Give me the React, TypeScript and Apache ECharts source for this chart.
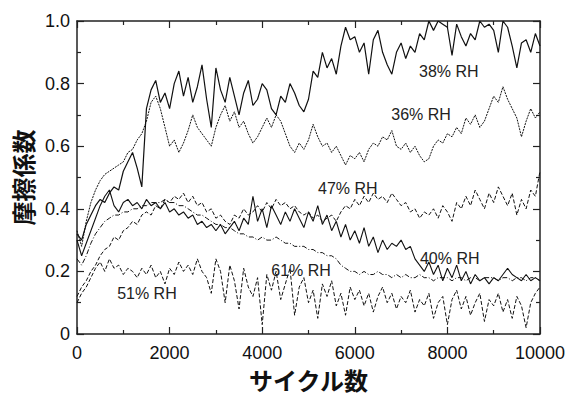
import React, { useEffect, useRef } from 'react';
import * as echarts from 'echarts';

// sampling grid (cycles)
const cycles = [
  0, 100, 200, 300, 400, 500, 600, 700, 800, 900,
  1000, 1100, 1200, 1300, 1400, 1500, 1600, 1700, 1800, 1900,
  2000, 2100, 2200, 2300, 2400, 2500, 2600, 2700, 2800, 2900,
  3000, 3100, 3200, 3300, 3400, 3500, 3600, 3700, 3800, 3900,
  4000, 4100, 4200, 4300, 4400, 4500, 4600, 4700, 4800, 4900,
  5000, 5100, 5200, 5300, 5400, 5500, 5600, 5700, 5800, 5900,
  6000, 6100, 6200, 6300, 6400, 6500, 6600, 6700, 6800, 6900,
  7000, 7100, 7200, 7300, 7400, 7500, 7600, 7700, 7800, 7900,
  8000, 8100, 8200, 8300, 8400, 8500, 8600, 8700, 8800, 8900,
  9000, 9100, 9200, 9300, 9400, 9500, 9600, 9700, 9800, 9900,
  10000,
];

const rh38 = [
  0.32, 0.30, 0.35, 0.38, 0.41, 0.43, 0.42, 0.45, 0.47, 0.46,
  0.52, 0.55, 0.58, 0.53, 0.47, 0.72, 0.78, 0.81, 0.74, 0.77,
  0.72, 0.80, 0.84, 0.76, 0.82, 0.74, 0.79, 0.86, 0.75, 0.66,
  0.85, 0.78, 0.74, 0.82, 0.76, 0.70, 0.77, 0.81, 0.73, 0.75,
  0.80, 0.78, 0.72, 0.70, 0.76, 0.74, 0.80, 0.77, 0.73, 0.71,
  0.75, 0.84, 0.82, 0.90, 0.85, 0.88, 0.83, 0.92, 0.98, 0.94,
  0.95, 0.90, 0.93, 0.83, 0.94, 0.97, 0.90, 0.86, 0.83, 0.90,
  0.93, 0.88, 0.92, 0.90, 0.96, 0.94, 1.0, 0.97, 1.0, 0.99,
  0.98, 0.89, 0.99, 0.95, 0.92, 0.96, 0.94, 1.0, 0.98, 0.99,
  0.97, 0.90, 1.0, 0.98, 0.92, 0.85, 0.93, 0.94, 0.90, 0.96,
  0.92,
];

const rh36 = [
  0.33, 0.28, 0.36, 0.42, 0.46, 0.49, 0.51, 0.52, 0.53, 0.54,
  0.55, 0.58, 0.59, 0.62, 0.64, 0.68, 0.74, 0.76, 0.72, 0.66,
  0.60, 0.62, 0.58, 0.61, 0.65, 0.70, 0.66, 0.64, 0.62, 0.60,
  0.66, 0.70, 0.73, 0.68, 0.71, 0.66, 0.68, 0.64, 0.61, 0.63,
  0.66, 0.69, 0.66, 0.70, 0.68, 0.64, 0.60, 0.58, 0.61, 0.59,
  0.62, 0.67, 0.63, 0.60, 0.61, 0.58, 0.60, 0.57, 0.54, 0.57,
  0.56, 0.58, 0.55, 0.59, 0.61, 0.60, 0.63, 0.62, 0.65, 0.60,
  0.59, 0.61, 0.58, 0.60, 0.57, 0.55, 0.56, 0.60, 0.62, 0.61,
  0.64, 0.63, 0.66, 0.64, 0.69, 0.67, 0.70, 0.66, 0.68, 0.72,
  0.76, 0.74, 0.79, 0.75, 0.72, 0.69, 0.63, 0.68, 0.72, 0.69,
  0.71,
];

const rh47 = [
  0.12, 0.15, 0.17, 0.20, 0.22, 0.25, 0.27, 0.28, 0.31, 0.30,
  0.33, 0.34, 0.36, 0.35, 0.38, 0.39, 0.38, 0.41, 0.40, 0.43,
  0.42, 0.44, 0.43, 0.45, 0.42, 0.44, 0.41, 0.42, 0.39, 0.40,
  0.37, 0.38, 0.36, 0.35, 0.38, 0.37, 0.40, 0.38, 0.39, 0.41,
  0.39, 0.42, 0.40, 0.43, 0.41, 0.42, 0.40, 0.41, 0.39, 0.38,
  0.39, 0.37, 0.38, 0.36, 0.37, 0.38, 0.36, 0.39, 0.41, 0.40,
  0.43, 0.41, 0.44, 0.42, 0.45, 0.43, 0.44, 0.42, 0.45, 0.43,
  0.41, 0.42, 0.39, 0.40, 0.37, 0.39, 0.38, 0.40, 0.37, 0.41,
  0.39, 0.36, 0.42, 0.40, 0.44, 0.41, 0.46, 0.43, 0.40, 0.45,
  0.42, 0.47, 0.44, 0.41, 0.45, 0.38, 0.43, 0.40, 0.46, 0.44,
  0.52,
];

const rh40 = [
  0.30, 0.25, 0.29, 0.33, 0.37, 0.41, 0.44, 0.46, 0.41, 0.39,
  0.42, 0.43, 0.41, 0.42, 0.40, 0.43, 0.41, 0.42, 0.40, 0.42,
  0.39, 0.40, 0.38, 0.39, 0.37, 0.38, 0.35, 0.36, 0.34, 0.35,
  0.33, 0.35, 0.32, 0.34, 0.36, 0.33, 0.37, 0.35, 0.44, 0.36,
  0.40, 0.34, 0.41, 0.38, 0.35, 0.39, 0.36, 0.40, 0.37, 0.34,
  0.39, 0.36, 0.41, 0.35, 0.38, 0.33, 0.36, 0.31, 0.35, 0.30,
  0.33, 0.29, 0.34, 0.28, 0.31, 0.26, 0.30, 0.27, 0.29, 0.28,
  0.30, 0.27, 0.28, 0.24, 0.22, 0.20, 0.23, 0.19, 0.22, 0.17,
  0.21, 0.18, 0.22, 0.17, 0.20, 0.16, 0.19, 0.17, 0.18, 0.16,
  0.18, 0.17, 0.19, 0.21, 0.19, 0.18, 0.17, 0.19, 0.17, 0.18,
  0.17,
];

const rh61 = [
  0.24, 0.22, 0.25, 0.29, 0.32, 0.34, 0.36, 0.37, 0.38, 0.38,
  0.39, 0.39, 0.40, 0.40, 0.41, 0.41, 0.42, 0.42, 0.42, 0.43,
  0.42, 0.42, 0.41, 0.41, 0.40, 0.39, 0.38, 0.38, 0.37, 0.36,
  0.35, 0.35, 0.34, 0.34, 0.33, 0.32, 0.32, 0.31, 0.31, 0.30,
  0.31, 0.30, 0.30, 0.31, 0.30, 0.29, 0.29, 0.28, 0.28, 0.28,
  0.27, 0.27, 0.26, 0.26, 0.25, 0.25, 0.24, 0.22, 0.21, 0.20,
  0.20, 0.19, 0.20, 0.19, 0.19, 0.20, 0.19, 0.19, 0.18, 0.19,
  0.18, 0.19, 0.18, 0.18, 0.19, 0.18, 0.18, 0.17, 0.18, 0.18,
  0.18, 0.17, 0.18, 0.18, 0.17, 0.18, 0.18, 0.17, 0.18, 0.18,
  0.18, 0.17, 0.18, 0.18, 0.17, 0.18, 0.18, 0.17, 0.18, 0.18,
  0.17,
];

const rh51 = [
  0.10, 0.13, 0.15, 0.18, 0.21, 0.23, 0.20, 0.24, 0.21, 0.22,
  0.19, 0.21, 0.20, 0.18, 0.21, 0.19, 0.22, 0.18, 0.20, 0.16,
  0.21, 0.19, 0.23, 0.20, 0.22, 0.19, 0.24, 0.20, 0.18, 0.13,
  0.24, 0.20, 0.10, 0.22, 0.17, 0.08, 0.21, 0.15, 0.12, 0.18,
  0.03, 0.19, 0.14, 0.20, 0.11, 0.16, 0.21, 0.06, 0.15, 0.18,
  0.10, 0.14, 0.05, 0.16, 0.12, 0.17, 0.09, 0.13, 0.06, 0.15,
  0.11, 0.14, 0.09, 0.13, 0.07, 0.12, 0.15, 0.10, 0.13, 0.08,
  0.12, 0.10, 0.14, 0.07, 0.11, 0.09, 0.13, 0.05, 0.10, 0.12,
  0.03, 0.11, 0.14, 0.08, 0.12, 0.06, 0.10, 0.13, 0.04, 0.11,
  0.09, 0.13, 0.07, 0.11, 0.05, 0.12, 0.09, 0.02, 0.10, 0.13,
  0.15,
];

// annotation labels (data coordinates of text centre)
const labelTexts = ['38% RH', '36% RH', '47% RH', '40% RH', '61% RH', '51% RH'];
const labelX = [8030, 7430, 5850, 8050, 4840, 1510];
const labelY = [0.838, 0.70, 0.464, 0.24, 0.203, 0.128];

const LATIN = '"Liberation Sans", Arial, Helvetica, sans-serif';
const CJK = '"Noto Sans CJK JP", "Noto Sans CJK SC", sans-serif';
const INK = '#111';

function lineSeries(name: string, values: number[], type: any, width: number) {
  return {
    type: 'line',
    name,
    data: cycles.map((c, i) => [c, values[i]]),
    showSymbol: false,
    symbol: 'none',
    clip: true,
    silent: true,
    lineStyle: { color: INK, width, type },
    emphasis: { disabled: true },
  };
}

export default function App() {
  const ref = useRef<HTMLDivElement>(null);
  useEffect(() => {
    if (!ref.current) return;
    const chart = echarts.init(ref.current, undefined, { renderer: 'svg' });
    const axisLine = { show: true, onZero: false, lineStyle: { color: '#222', width: 1.5 } };
    const axisTick = { show: true, inside: true, length: 7, lineStyle: { color: '#222', width: 1.2 } };
    const minorTick = { show: true, splitNumber: 2, length: 4, lineStyle: { color: '#222', width: 1.2 } };
    chart.setOption({
      animation: false,
      backgroundColor: '#fff',
      grid: { left: 77, right: 39, top: 21, bottom: 54, containLabel: false },
      xAxis: [
        {
          type: 'value', min: 0, max: 10000, interval: 2000, position: 'bottom',
          axisLine, axisTick, minorTick, splitLine: { show: false },
          axisLabel: {
            fontSize: 18, color: INK, margin: 10, fontFamily: LATIN,
            formatter: (v: number) => String(v),
          },
          name: 'サイクル数', nameLocation: 'middle', nameGap: 33,
          nameTextStyle: { fontSize: 24, fontWeight: 'bold', color: INK, fontFamily: CJK },
        },
        {
          type: 'value', min: 0, max: 10000, interval: 2000, position: 'top',
          axisLine, axisTick, minorTick, splitLine: { show: false },
          axisLabel: { show: false },
        },
      ],
      yAxis: [
        {
          type: 'value', min: 0, max: 1.0, interval: 0.2, position: 'left',
          axisLine, axisTick, minorTick, splitLine: { show: false },
          axisLabel: {
            fontSize: 18, color: INK, margin: 7, fontFamily: LATIN,
            formatter: (v: number) => (v === 0 ? '0' : v.toFixed(1)),
          },
          name: '摩擦係数', nameLocation: 'middle', nameGap: 43, nameRotate: 90,
          nameTextStyle: { fontSize: 24, fontWeight: 'bold', color: INK, fontFamily: CJK },
        },
        {
          type: 'value', min: 0, max: 1.0, interval: 0.2, position: 'right',
          axisLine, axisTick, minorTick, splitLine: { show: false },
          axisLabel: { show: false },
        },
      ],
      series: [
        lineSeries('38% RH', rh38, 'solid', 1.2),
        lineSeries('36% RH', rh36, [2, 1], 1),
        lineSeries('47% RH', rh47, [4, 2], 1),
        lineSeries('40% RH', rh40, 'solid', 1.1),
        lineSeries('61% RH', rh61, [5, 2, 1, 2], 1),
        lineSeries('51% RH', rh51, [4, 2], 1),
        {
          type: 'scatter',
          name: 'labels',
          silent: true,
          symbol: 'circle',
          symbolSize: 2,
          itemStyle: { color: 'rgba(0,0,0,0)' },
          z: 5,
          data: labelTexts.map((t, i) => ({ name: t, value: [labelX[i], labelY[i]] })),
          label: {
            show: true, position: 'inside', formatter: '{b}', opacity: 1,
            fontSize: 16, color: '#222', fontFamily: LATIN,
          },
          emphasis: { disabled: true },
        },
      ],
    });
    return () => chart.dispose();
  }, []);
  return <div ref={ref} style={{ position: 'fixed', left: 0, top: 0, width: 579, height: 396 }} />;
}
